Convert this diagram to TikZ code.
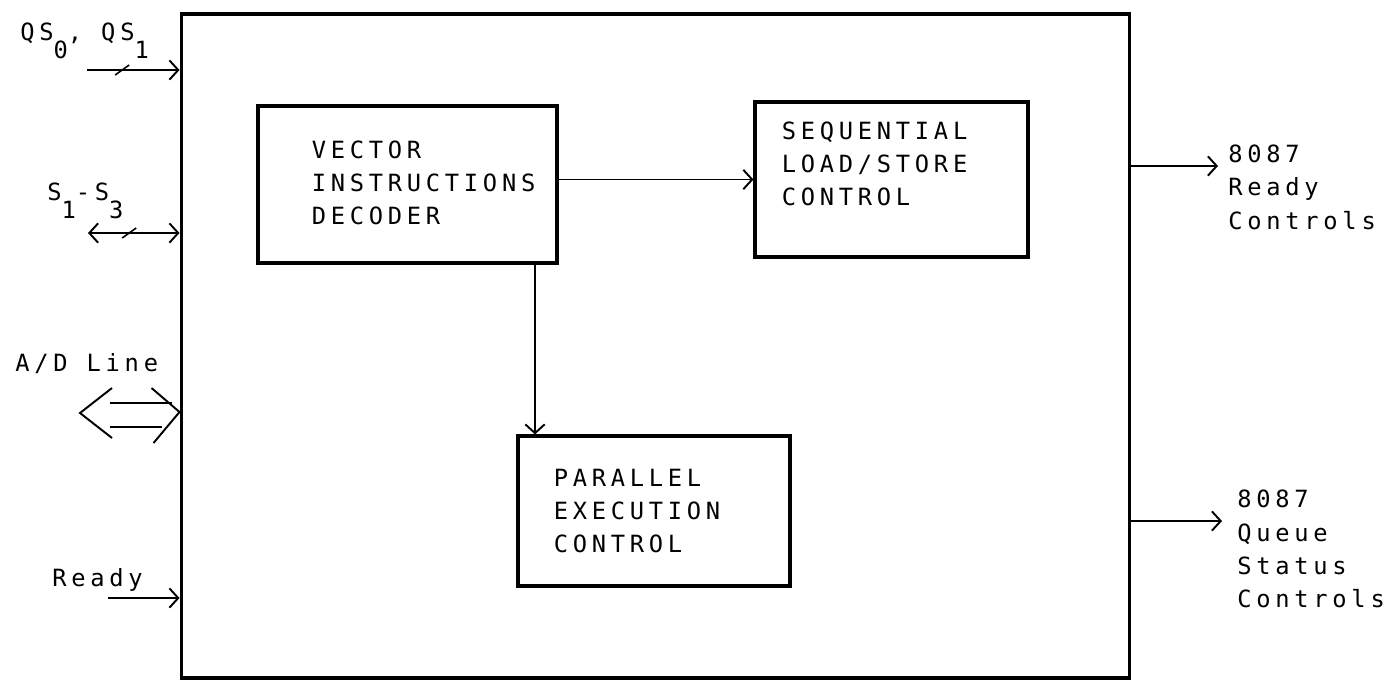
\documentclass[tikz,border=0pt]{standalone}
\usepackage{fontspec}
\setmainfont{DejaVu Sans Mono}[LetterSpace=20]
\usetikzlibrary{arrows.meta, positioning, calc}

\newcommand{\lowsub}[1]{\raisebox{-0.75em}{#1}}

\begin{document}
\begin{tikzpicture}[
  x=0.02cm, y=-0.02cm,
  box/.style={draw, line width=1.8pt, inner sep=0pt},
  lbl/.style={inner sep=0pt, anchor=north west, align=left,
              font=\fontsize{13.5}{18.8}\selectfont},
  arr/.style={-{Straight Barb[length=5pt, width=11pt]}, line width=1.1pt},
  dbl/.style={{Straight Barb[length=5pt, width=11pt]}-{Straight Barb[length=5pt, width=11pt]}, line width=1.1pt}
]
  \useasboundingbox (0,0) rectangle (1397,681);

  % Outer block
  \node[box, minimum width=18.98cm, minimum height=13.28cm] (cpu) at (655.5,346) {};

  % Inner blocks
  \node[box, minimum width=5.98cm, minimum height=3.14cm] (vid) at (407.5,184.5) {};
  \node[box, minimum width=5.46cm, minimum height=3.1cm] (seq) at (891.5,179.5) {};
  \node[box, minimum width=5.44cm, minimum height=3cm] (par) at (654,511) {};

  \node[lbl, below right=0.72cm and 1.1cm of vid.north west] (vidtxt) {VECTOR\\INSTRUCTIONS\\DECODER};
  \node[lbl, below right=0.42cm and 0.56cm of seq.north west] (seqtxt) {SEQUENTIAL\\LOAD/STORE\\CONTROL};
  \node[lbl, below right=0.68cm and 0.74cm of par.north west] (partxt) {PARALLEL\\EXECUTION\\CONTROL};

  % Internal connections
  \draw[arr] (seq.west -| vid.east) -- (seq.west);
  \draw[arr] (vid.south -| 535,0) -- (par.north -| 535,0);

  % Inputs
  \coordinate (qs) at (87,70);
  \coordinate (st) at (88,233);
  \coordinate (rdin) at (108,598);
  \draw[arr] (qs) -- (qs -| cpu.west);
  \draw[line width=0.9pt] ($(qs)!0.38!(qs -| cpu.west)$) +(-7,5) -- +(7,-5);
  \draw[dbl] (st) -- (st -| cpu.west);
  \draw[line width=0.9pt] ($(st)!0.45!(st -| cpu.west)$) +(-7,5) -- +(7,-5);
  \draw[arr] (rdin) -- (rdin -| cpu.west);

  % A/D bus
  \coordinate (adl) at (80,413);
  \coordinate (adr) at (cpu.west |- 0,412);
  \draw[line width=1.1pt] (adl) ++(30,-10) -- ($(adr)+(-8,-9)$);
  \draw[line width=1.1pt] (adl) ++(30,14) -- ($(adr)+(-18,15)$);
  \draw[line width=1.1pt] ($(adl)+(32,-25)$) -- (adl) -- ($(adl)+(32,25)$);
  \draw[line width=1.1pt] ($(adr)+(-28,-24)$) -- (adr) -- ($(adr)+(-26,31)$);

  \node[lbl] (qslbl) at (20,23) {QS\lowsub{0}, QS\lowsub{1}};
  \node[lbl] (stlbl) at (47,183) {S\lowsub{1}-S\lowsub{3}};
  \node[lbl] (adlbl) at (15,353) {A/D Line};
  \node[lbl] (rdlbl) at (52,568) {Ready};

  % Outputs
  \coordinate (rdy) at (1218,166);
  \coordinate (qst) at (1222,521);
  \draw[arr] (cpu.east |- rdy) -- (rdy);
  \draw[arr] (cpu.east |- qst) -- (qst);
  \node[lbl] (rdylbl) at ($(rdy)+(10,-21)$) {8087\\Ready\\Controls};
  \node[lbl] (qstlbl) at ($(qst)+(15,-31)$) {8087\\Queue\\Status\\Controls};
\end{tikzpicture}
\end{document}
